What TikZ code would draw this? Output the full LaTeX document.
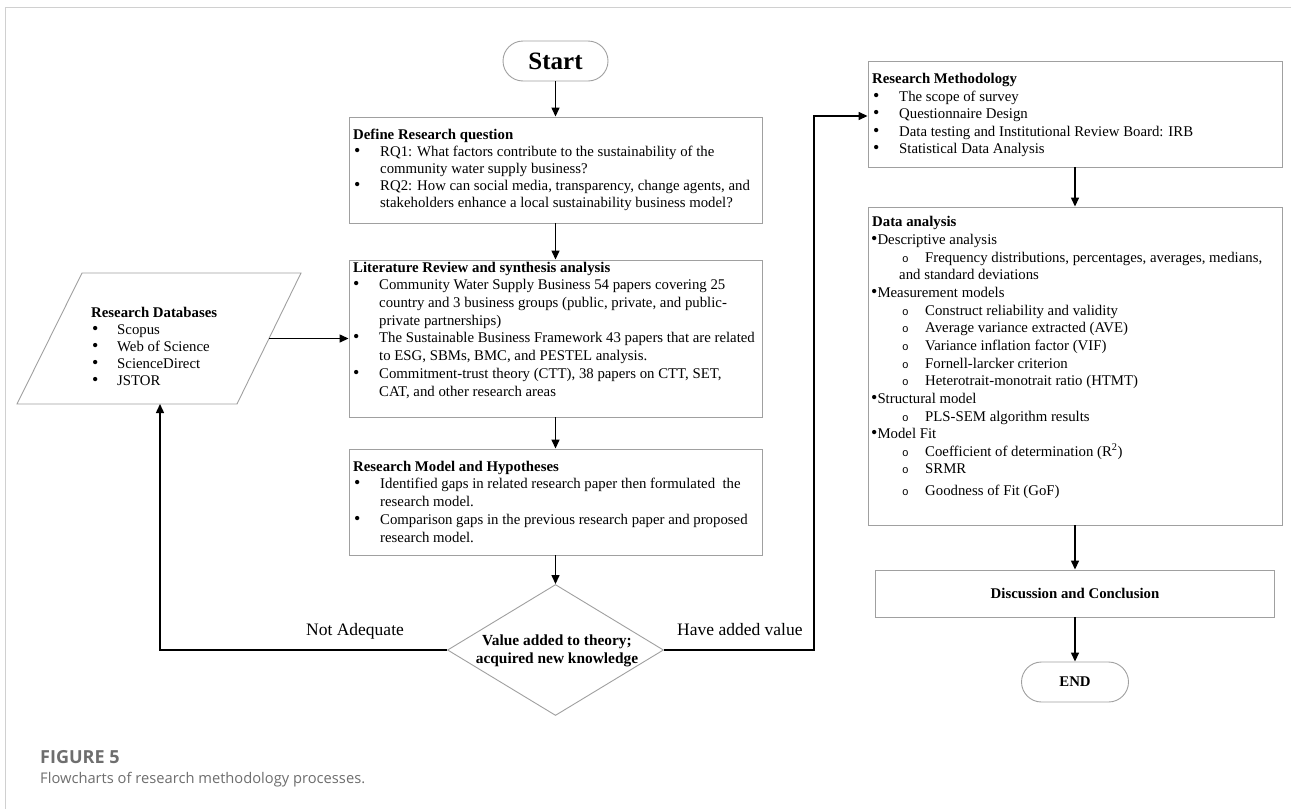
\documentclass[tikz,border=0pt]{standalone}
\usepackage{fontspec}
\setmainfont{Liberation Serif}
\newfontfamily\capfont{Open Sans}
\newfontfamily\monof{Liberation Mono}
\usetikzlibrary{shapes.geometric,arrows.meta}
\definecolor{boxgray}{HTML}{A0A0A0}
\definecolor{framegray}{HTML}{D0D0D0}
\definecolor{capgray}{HTML}{6E6E6E}
\newcommand\mydot{{\fontsize{18}{18}\selectfont\textbullet}}
\newcommand\mybul[1]{\makebox[#1][l]{\mydot}}
\newcommand\mycir{\makebox[23pt][l]{{\monof\fontsize{11}{11}\selectfont o}}}
\begin{document}
\begin{tikzpicture}[x=1pt,y=-1pt,
  box/.style={draw=boxgray, line width=0.9pt, rectangle, inner sep=0pt},
  term/.style={box, rounded corners=20pt},
  txt/.style={anchor=base west, inner sep=0pt, font=\fontsize{14.8}{17}\selectfont},
  ctxt/.style={anchor=base, inner sep=0pt, font=\fontsize{15.4}{17}\selectfont\bfseries},
  arr/.style={line width=1.4pt, -{Triangle[length=9pt,width=8pt]}},
  lbl/.style={anchor=base west, inner sep=0pt, font=\fontsize{17.5}{20}\selectfont}]
\useasboundingbox (0,0) rectangle (1291,809);
\fill[white] (0,0) rectangle (1291,809);
\draw[framegray, line width=1pt] (1291,7) -- (5,7) -- (5,809);

% terminals and boxes
\node[term, minimum width=105pt, minimum height=40pt, font=\fontsize{25}{25}\selectfont\bfseries] (start) at (555.5,61) {Start};
\node[box, minimum width=413pt, minimum height=106pt] (def) at (555.5,170) {};
\node[box, minimum width=413pt, minimum height=157pt] (lit) at (555.5,338.5) {};
\node[box, minimum width=413pt, minimum height=106pt] (rm) at (555.5,502) {};
\node[diamond, draw=boxgray, line width=0.9pt, minimum width=216pt, minimum height=131pt, inner sep=0pt] (dec) at (555.5,650) {};
\node[box, minimum width=414pt, minimum height=106pt] (meth) at (1075,114) {};
\node[box, minimum width=414pt, minimum height=318pt] (data) at (1075,366) {};
\node[box, minimum width=399pt, minimum height=47pt, font=\fontsize{14.8}{17}\selectfont\bfseries] (disc) at (1075,593.5) {Discussion and Conclusion};
\node[term, minimum width=107pt, minimum height=40pt, font=\fontsize{14.8}{17}\selectfont\bfseries] (end) at (1075,682) {END};

% parallelogram
\coordinate (dbTL) at (82,273);
\coordinate (dbTR) at (301,273);
\coordinate (dbBR) at (237,404);
\coordinate (dbBL) at (17,404);
\draw[boxgray, line width=0.9pt] (dbTL) -- (dbTR) -- (dbBR) -- (dbBL) -- cycle;
\coordinate (dbR) at (269,338.5);
\coordinate (dbB) at (160,404);

% diamond text
\node[ctxt] (decA) at (557,645) {Value added to theory;};
\node[ctxt] (decB) at (557,663) {acquired new knowledge};

% texts
\foreach \xa/\ya/\ta [count=\i] in {
353/139/{\textbf{Define Research question}},
354/156/{\mybul{26pt}RQ1: What factors contribute to the sustainability of the},
380/173/{community water supply business?},
354/190/{\mybul{26pt}RQ2: How can social media, transparency, change agents, and},
380/207/{stakeholders enhance a local sustainability business model?}
} \node[txt] (d\i) at (\xa,\ya) {\ta};

\foreach \xa/\ya/\ta [count=\i] in {
353/272/{\textbf{Literature Review and synthesis analysis}},
353/289/{\mybul{26pt}Community Water Supply Business 54 papers covering 25},
379/307/{country and 3 business groups (public, private, and public-},
379/325/{private partnerships)},
353/342/{\mybul{26pt}The Sustainable Business Framework 43 papers that are related},
379/360/{to ESG, SBMs, BMC, and PESTEL analysis.},
353/378/{\mybul{26pt}Commitment-trust theory (CTT), 38 papers on CTT, SET,},
379/396/{CAT, and other research areas}
} \node[txt] (l\i) at (\xa,\ya) {\ta};

\foreach \xa/\ya/\ta [count=\i] in {
353/471/{\textbf{Research Model and Hypotheses}},
354/488/{\mybul{26pt}Identified gaps in related research paper then formulated \ the},
380/506/{research model.},
354/524/{\mybul{26pt}Comparison gaps in the previous research paper and proposed},
380/542/{research model.}
} \node[txt] (r\i) at (\xa,\ya) {\ta};

\foreach \xa/\ya/\ta [count=\i] in {
91/317/{\textbf{Research Databases}},
92/334/{\mybul{25pt}Scopus},
92/351/{\mybul{25pt}Web of Science},
92/368/{\mybul{25pt}ScienceDirect},
92/385/{\mybul{25pt}JSTOR}
} \node[txt] (b\i) at (\xa,\ya) {\ta};

\foreach \xa/\ya/\ta [count=\i] in {
872/83/{\textbf{Research Methodology}},
873/101/{\mybul{26pt}The scope of survey},
873/118/{\mybul{26pt}Questionnaire Design},
873/136/{\mybul{26pt}Data testing and Institutional Review Board: IRB},
873/153/{\mybul{26pt}Statistical Data Analysis}
} \node[txt] (m\i) at (\xa,\ya) {\ta};

\foreach \xa/\ya/\ta [count=\i] in {
872/226/{\textbf{Data analysis}},
871/244/{\mydot Descriptive analysis},
902/262/{\mycir Frequency distributions, percentages, averages, medians,},
899/279/{and standard deviations},
871/297/{\mydot Measurement models},
902/315/{\mycir Construct reliability and validity},
902/332/{\mycir Average variance extracted (AVE)},
902/350/{\mycir Variance inflation factor (VIF)},
902/368/{\mycir Fornell-larcker criterion},
902/385/{\mycir Heterotrait-monotrait ratio (HTMT)},
871/403/{\mydot Structural model},
902/421/{\mycir PLS-SEM algorithm results},
871/438/{\mydot Model Fit},
902/456/{\mycir Coefficient of determination (R\textsuperscript{2})},
902/473/{\mycir SRMR},
902/495/{\mycir Goodness of Fit (GoF)}
} \node[txt] (a\i) at (\xa,\ya) {\ta};

% connectors
\draw[arr] (start) -- (def);
\draw[arr] (def) -- (lit);
\draw[arr] (lit) -- (rm);
\draw[arr] (rm) -- (dec);
\draw[arr] (dbR) -- (dbR -| lit.west);
\draw[arr] (dec.west) -| (dbB);
\coordinate (hv) at (814,116);
\draw[arr] (dec.east) -| (hv) -- (hv -| meth.west);
\draw[arr] (meth) -- (data);
\draw[arr] (data) -- (disc);
\draw[arr] (disc) -- (end);

% labels
\node[lbl] (na) at (306,635) {Not Adequate};
\node[lbl] (hav) at (677,635) {Have added value};

% caption
\node[anchor=base west, inner sep=0pt, font=\capfont\bfseries\fontsize{18}{20}\selectfont, text=capgray] (fig) at (40,763) {FIGURE 5};
\node[anchor=base west, inner sep=0pt, font=\capfont\fontsize{14.7}{18}\selectfont, text=capgray] (cap) at (40,783) {Flowcharts of research methodology processes.};
\end{tikzpicture}
\end{document}
